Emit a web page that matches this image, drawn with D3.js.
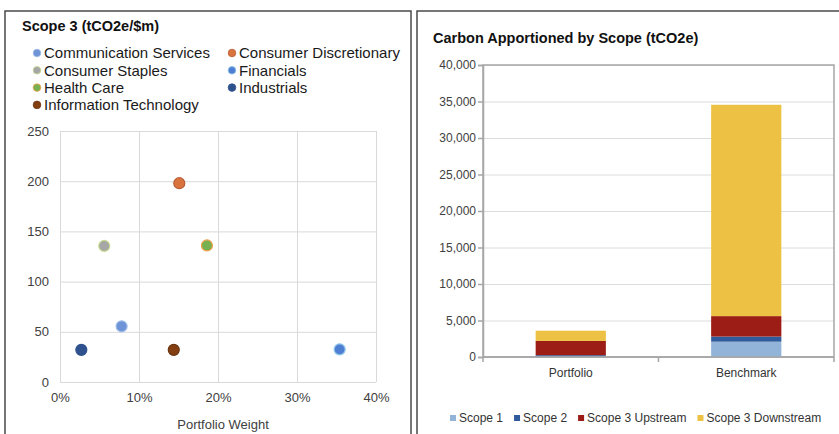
<!DOCTYPE html>
<html>
<head>
<meta charset="utf-8">
<script src="https://cdn.jsdelivr.net/npm/d3@7"></script>
<style>
  body { margin: 0; background: #fff; }
  svg { font-family: "Liberation Sans", Arial, sans-serif; display: block; }
</style>
</head>
<body>
<svg width="839" height="434"></svg>
<script>
// scatter: sector weight vs scope 3 intensity
const sectors = ["Communication Services", "Consumer Discretionary", "Consumer Staples",
  "Financials", "Health Care", "Industrials", "Information Technology"];
const portfolioWeight = [0.078, 0.151, 0.056, 0.354, 0.186, 0.027, 0.144];
const scope3Intensity = [55.5, 198, 135.5, 32.5, 136, 32, 32];
const weightTicks = [0, 0.1, 0.2, 0.3, 0.4];
const intensityTicks = [0, 50, 100, 150, 200, 250];

// stacked bars: carbon apportioned by scope
const barCategories = ["Portfolio", "Benchmark"];
const scopeNames = ["Scope 1", "Scope 2", "Scope 3 Upstream", "Scope 3 Downstream"];
const scope1 = [100, 2100];
const scope2 = [150, 700];
const scope3Upstream = [1950, 2800];
const scope3Downstream = [1400, 28950];
const carbonTicks = [0, 5000, 10000, 15000, 20000, 25000, 30000, 35000, 40000];

const sectorFill = ["#6e93d6", "#d9743f", "#a6a6a6", "#4f7fd3", "#76b051", "#2f528f", "#843f10"];
const sectorStroke = ["#9dbbe8", "#b95c34", "#c6dc8e", "#8ec4ea", "#f0a04b", "#2f528f", "#6b3410"];
const scopeColors = ["#92b4d8", "#2f5a9c", "#9c1c16", "#edc144"];

const svg = d3.select("svg");

function drawPanels () {
  svg.append("rect")
    .attr("x", 5).attr("y", 11).attr("width", 406).attr("height", 440)
    .attr("fill", "none").attr("stroke", "#4a4a4a").attr("stroke-width", 1.5);
  svg.append("rect")
    .attr("x", 417).attr("y", 11).attr("width", 440).attr("height", 440)
    .attr("fill", "none").attr("stroke", "#4a4a4a").attr("stroke-width", 1.5);
}

function drawScatter () {
  const left = 60, right = 376, top = 131, bottom = 382;
  const x = d3.scaleLinear().domain([0, 0.4]).range([left, right]);
  const y = d3.scaleLinear().domain([0, 250]).range([bottom, top]);

  svg.append("text")
    .attr("x", 22).attr("y", 31)
    .attr("font-size", 14.5).attr("font-weight", "bold").attr("fill", "#111")
    .text("Scope 3 (tCO2e/$m)");

  // legend, two columns
  const legend = svg.append("g");
  sectors.forEach((s, i) => {
    const cx = i % 2 === 0 ? 37 : 232;
    const cy = 53 + Math.floor(i / 2) * 17.3;
    legend.append("circle")
      .attr("cx", cx).attr("cy", cy).attr("r", 3.8)
      .attr("fill", sectorFill[i]).attr("stroke", sectorStroke[i]).attr("stroke-width", 0.8);
    legend.append("text")
      .attr("x", cx + 7).attr("y", cy).attr("dy", "0.36em")
      .attr("font-size", 15).attr("fill", "#1a1a1a")
      .text(s);
  });

  // grid
  svg.append("g")
    .attr("transform", `translate(${left},0)`)
    .call(d3.axisLeft(y).tickValues(intensityTicks).tickSize(-(right - left)).tickFormat(""))
    .call(g => g.select(".domain").remove())
    .call(g => g.selectAll("line").attr("stroke", "#d9d9d9"));
  svg.append("g")
    .attr("transform", `translate(0,${bottom})`)
    .call(d3.axisBottom(x).tickValues(weightTicks).tickSize(-(bottom - top)).tickFormat(""))
    .call(g => g.select(".domain").remove())
    .call(g => g.selectAll("line").attr("stroke", "#d9d9d9"));

  // axis labels
  svg.append("g")
    .attr("transform", `translate(${left},0)`)
    .call(d3.axisLeft(y).tickValues(intensityTicks).tickSize(0).tickPadding(11))
    .call(g => g.select(".domain").remove())
    .call(g => g.selectAll("text").attr("font-size", 13).attr("fill", "#404040").attr("font-family", null));
  svg.append("g")
    .attr("transform", `translate(0,${bottom})`)
    .call(d3.axisBottom(x).tickValues(weightTicks).tickSize(0).tickPadding(11).tickFormat(d3.format(".0%")))
    .call(g => g.select(".domain").remove())
    .call(g => g.selectAll("text").attr("font-size", 13).attr("fill", "#404040").attr("font-family", null));

  svg.append("text")
    .attr("x", (left + right) / 2 + 5).attr("y", 429)
    .attr("text-anchor", "middle")
    .attr("font-size", 13).attr("fill", "#404040")
    .text("Portfolio Weight");

  svg.append("g")
    .selectAll("circle")
    .data(sectors)
    .join("circle")
    .attr("cx", (d, i) => x(portfolioWeight[i]))
    .attr("cy", (d, i) => y(scope3Intensity[i]))
    .attr("r", 5.5)
    .attr("fill", (d, i) => sectorFill[i])
    .attr("stroke", (d, i) => sectorStroke[i])
    .attr("stroke-width", 1.2);
}

function drawBars () {
  const left = 483, right = 834, top = 65, bottom = 357;
  const x = d3.scaleBand().domain(barCategories).range([left, right])
    .paddingInner(0.6).paddingOuter(0.3);
  const y = d3.scaleLinear().domain([0, 40000]).range([bottom, top]);

  svg.append("text")
    .attr("x", 433).attr("y", 43)
    .attr("font-size", 14.5).attr("font-weight", "bold").attr("fill", "#111")
    .text("Carbon Apportioned by Scope (tCO2e)");

  svg.append("g")
    .attr("transform", `translate(${left},0)`)
    .call(d3.axisLeft(y).tickValues(carbonTicks).tickSize(-(right - left)).tickFormat(""))
    .call(g => g.select(".domain").remove())
    .call(g => g.selectAll("line").attr("stroke", "#dcdcdc"));

  // plot frame
  svg.append("rect")
    .attr("x", left).attr("y", top).attr("width", right - left).attr("height", bottom - top)
    .attr("fill", "none").attr("stroke", "#a6a6a6").attr("stroke-width", 1.5);

  const table = barCategories.map((c, i) => ({
    category: c,
    "Scope 1": scope1[i],
    "Scope 2": scope2[i],
    "Scope 3 Upstream": scope3Upstream[i],
    "Scope 3 Downstream": scope3Downstream[i]
  }));
  const series = d3.stack().keys(scopeNames)(table);

  svg.append("g")
    .selectAll("g")
    .data(series)
    .join("g")
    .attr("fill", (d, i) => scopeColors[i])
    .selectAll("rect")
    .data(d => d)
    .join("rect")
    .attr("x", d => x(d.data.category))
    .attr("y", d => y(d[1]))
    .attr("height", d => y(d[0]) - y(d[1]))
    .attr("width", x.bandwidth());

  svg.append("g")
    .attr("transform", `translate(${left},0)`)
    .call(d3.axisLeft(y).tickValues(carbonTicks).tickSize(5).tickPadding(2).tickFormat(d3.format(",")))
    .call(g => g.selectAll("line, .domain").attr("stroke", "#a6a6a6").attr("stroke-width", 1.5))
    .call(g => g.selectAll("text").attr("font-size", 12).attr("fill", "#404040").attr("font-family", null));

  // category axis, ticks sit on the band edges
  const step = x.step();
  const edges = [x(barCategories[0]) + x.bandwidth() / 2 - step / 2]
    .concat(barCategories.map(c => x(c) + x.bandwidth() / 2 + step / 2));
  const xAxis = svg.append("g").attr("transform", `translate(0,${bottom})`);
  xAxis.append("line")
    .attr("x1", left).attr("x2", right)
    .attr("stroke", "#a6a6a6").attr("stroke-width", 1.5);
  xAxis.selectAll(".edge")
    .data(edges)
    .join("line")
    .attr("class", "edge")
    .attr("x1", d => d).attr("x2", d => d)
    .attr("y1", 0).attr("y2", 5)
    .attr("stroke", "#a6a6a6").attr("stroke-width", 1.5);
  xAxis.call(d3.axisBottom(x).tickSize(0).tickPadding(11))
    .call(g => g.select(".domain").remove())
    .call(g => g.selectAll(".tick text").attr("font-size", 12).attr("fill", "#333").attr("font-family", null));

  // legend along the bottom
  const legend = svg.append("g").attr("transform", "translate(450,418)");
  let cursor = 0;
  scopeNames.forEach((name, i) => {
    const item = legend.append("g").attr("transform", `translate(${cursor},0)`);
    item.append("rect")
      .attr("x", 0).attr("y", -3).attr("width", 6).attr("height", 6)
      .attr("fill", scopeColors[i]);
    const label = item.append("text")
      .attr("x", 9).attr("dy", "0.36em")
      .attr("font-size", 12).attr("fill", "#333")
      .text(name);
    cursor += 9 + label.node().getComputedTextLength() + 11;
  });
}

drawPanels();
drawScatter();
drawBars();
</script>
</body>
</html>
